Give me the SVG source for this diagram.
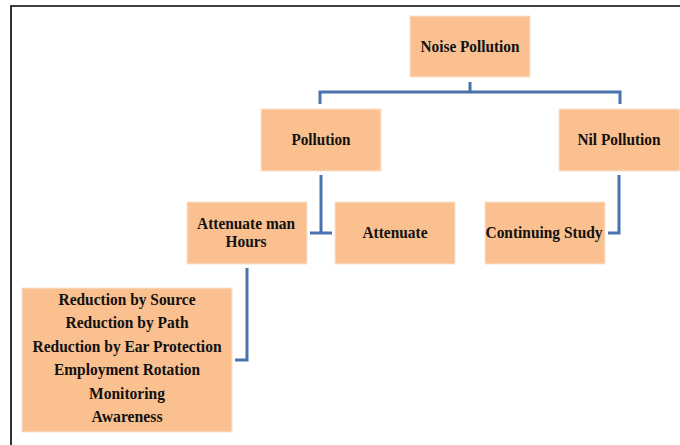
<svg xmlns="http://www.w3.org/2000/svg" width="680" height="445" viewBox="0 0 680 445">
<style>
.box{fill:#FAC090;stroke:#FCE4D0;stroke-width:1}
.t{font-family:"Liberation Serif","Times New Roman",serif;font-weight:bold;font-size:17px;fill:#111;text-anchor:middle}
.s{font-size:16px}
.c{fill:none;stroke:#4A72AE;stroke-width:3;stroke-linecap:butt;stroke-linejoin:miter}
</style>
<rect width="680" height="445" fill="#fff"/>
<path d="M11,445 V6 H680" fill="none" stroke="#000" stroke-width="1.6"/>
<g id="connectors">
<path class="c" d="M470,82 V92"/>
<path class="c" d="M320,104 V92 H620 V104"/>
<path class="c" d="M321,175 V233 M310,233 H332"/>
<path class="c" d="M619,175 V233 H608"/>
<path class="c" d="M247,268 V360 H235"/>
</g>
<g id="noise-pollution"><rect class="box" x="410" y="16" width="120" height="61"/><text class="t" x="470" y="52" textLength="99" lengthAdjust="spacingAndGlyphs">Noise Pollution</text></g>
<g id="pollution"><rect class="box" x="261" y="109" width="120" height="62"/><text class="t" x="321" y="145" textLength="59" lengthAdjust="spacingAndGlyphs">Pollution</text></g>
<g id="nil-pollution"><rect class="box" x="559" y="109" width="121" height="62"/><text class="t" x="619" y="145" textLength="83" lengthAdjust="spacingAndGlyphs">Nil Pollution</text></g>
<g id="attenuate-man-hours"><rect class="box" x="187" y="202" width="120" height="62"/><text class="t s" x="246" y="228.5" textLength="98" lengthAdjust="spacingAndGlyphs">Attenuate man</text><text class="t s" x="246" y="246.5" textLength="41" lengthAdjust="spacingAndGlyphs">Hours</text></g>
<g id="attenuate"><rect class="box" x="335" y="202" width="120" height="62"/><text class="t" x="395" y="238" textLength="65" lengthAdjust="spacingAndGlyphs">Attenuate</text></g>
<g id="continuing-study"><rect class="box" x="485" y="202" width="120" height="62"/><text class="t" x="544" y="238" textLength="117" lengthAdjust="spacingAndGlyphs">Continuing Study</text></g>
<g id="measures"><rect class="box" x="22" y="288" width="210" height="144"/>
<text class="t" x="127" y="305" textLength="137" lengthAdjust="spacingAndGlyphs">Reduction by Source</text>
<text class="t" x="127" y="328" textLength="123" lengthAdjust="spacingAndGlyphs">Reduction by Path</text>
<text class="t" x="127" y="352" textLength="189" lengthAdjust="spacingAndGlyphs">Reduction by Ear Protection</text>
<text class="t" x="127" y="375" textLength="146" lengthAdjust="spacingAndGlyphs">Employment Rotation</text>
<text class="t" x="127" y="399" textLength="76" lengthAdjust="spacingAndGlyphs">Monitoring</text>
<text class="t" x="127" y="422" textLength="71" lengthAdjust="spacingAndGlyphs">Awareness</text>
</g>
</svg>
